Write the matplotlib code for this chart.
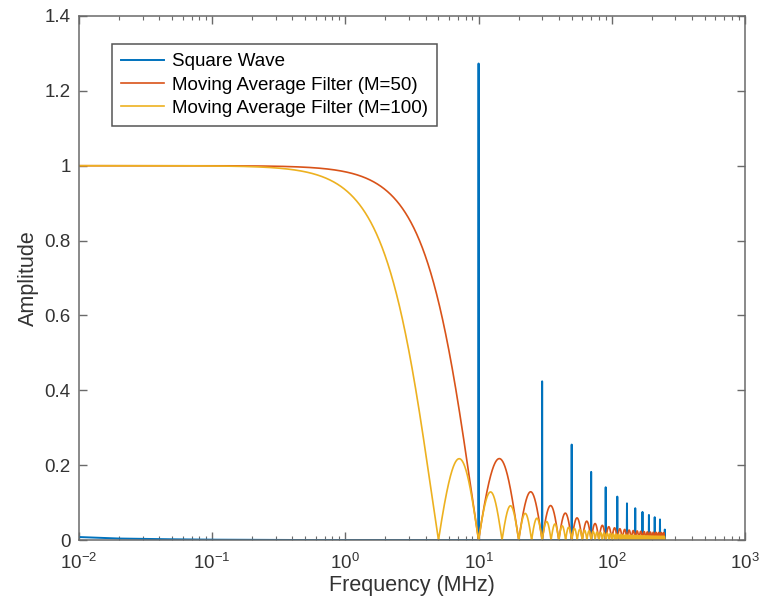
import numpy as np
import matplotlib
matplotlib.use("Agg")
import matplotlib.pyplot as plt
from matplotlib.ticker import LogLocator, FixedLocator, NullFormatter

plt.rcParams['font.family'] = ['Liberation Sans', 'DejaVu Sans']

# ---- data ----
# Square-wave spectral lines (MHz) and amplitudes
spike_freqs = [10, 30, 50, 70, 90, 110, 130, 150, 170, 190, 210, 230, 250]
spike_amps = [1.273, 0.424, 0.255, 0.182, 0.141, 0.116, 0.098, 0.085, 0.075,
              0.067, 0.061, 0.055, 0.028]
# Low-level square-wave baseline (leakage near DC)
base_freqs = [0.01, 0.02, 0.05, 0.1, 0.5, 1, 5, 250]
base_amps = [0.008, 0.004, 0.002, 0.001, 0.0, 0.0, 0.0, 0.0]
# Moving-average filters: lengths and sample rate (MHz), first nulls at 10 / 5 MHz
filter_lengths = [50, 100]
sample_rate = 500.0
f_max = 250.0

labels = ['Square Wave', 'Moving Average Filter (M=50)', 'Moving Average Filter (M=100)']
colors = ['#0072BD', '#D95319', '#EDB120']
ytick_vals = [0, 0.2, 0.4, 0.6, 0.8, 1.0, 1.2, 1.4]
ytick_labels = ['0', '0.2', '0.4', '0.6', '0.8', '1', '1.2', '1.4']

# ---- build square-wave trace ----
eps = 0.004
pts = list(zip(base_freqs, base_amps))
for f, a in zip(spike_freqs, spike_amps):
    pts += [(f * (1 - eps), 0.0), (f, a), (f * (1 + eps), 0.0)]
pts.sort(key=lambda p: p[0])
sq_f = np.array([p[0] for p in pts])
sq_a = np.array([p[1] for p in pts])

fig = plt.figure(figsize=(7.63, 6.12), dpi=100)
ax = fig.add_axes([0.1035, 0.1176, 0.8729, 0.8563])

ax.plot(sq_f, sq_a, color=colors[0], lw=1.4, label=labels[0])

f = np.logspace(-2, np.log10(f_max), 6000)
for M, c, lab in zip(filter_lengths, colors[1:], labels[1:]):
    x = np.pi * f / sample_rate
    H = np.abs(np.sin(M * x) / (M * np.sin(x)))
    ax.plot(f, H, color=c, lw=1.2, label=lab)

ax.set_xscale('log')
ax.set_xlim(1e-2, 1e3)
ax.set_ylim(0, 1.4)
ax.yaxis.set_major_locator(FixedLocator(ytick_vals))
ax.set_yticklabels(ytick_labels)
ax.xaxis.set_major_locator(LogLocator(base=10, numticks=20))
ax.xaxis.set_minor_locator(LogLocator(base=10, subs=np.arange(2, 10), numticks=20))
ax.xaxis.set_minor_formatter(NullFormatter())

axcol = '#6a6a6a'
for s in ax.spines.values():
    s.set_color(axcol)
    s.set_linewidth(1.1)
ax.tick_params(which='both', direction='in', top=True, right=True, colors=axcol,
               labelcolor='#333333', labelsize=13.5)
ax.tick_params(which='major', length=6, width=1.0)
ax.tick_params(which='minor', length=3, width=0.8)
ax.tick_params(axis='x', pad=9)
ax.tick_params(axis='y', pad=6)

ax.set_xlabel('Frequency (MHz)', fontsize=15.5, color='#333333', labelpad=2)
ax.set_ylabel('Amplitude', fontsize=15.5, color='#333333', labelpad=4)

leg = ax.legend(loc='upper left', bbox_to_anchor=(0.0495, 0.9466), borderaxespad=0,
                fontsize=13.5, frameon=True, fancybox=False, framealpha=1,
                edgecolor='#555555', handlelength=2.3, handletextpad=0.4,
                borderpad=0.5, labelspacing=0.32)
leg.get_frame().set_linewidth(1.1)

fig.savefig('out.png', dpi=100)
